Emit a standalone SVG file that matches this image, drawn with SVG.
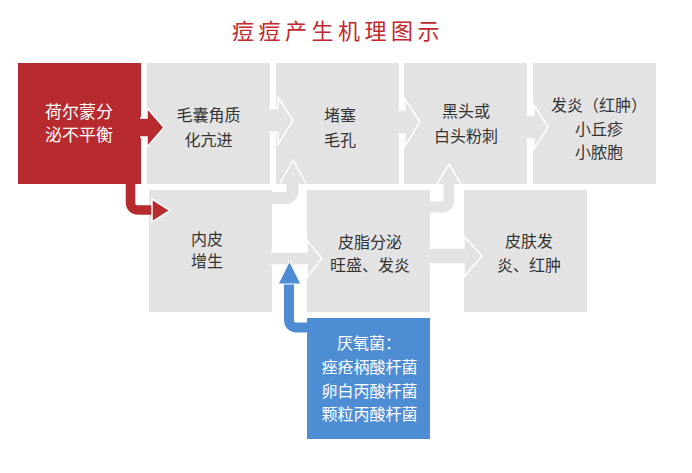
<svg xmlns="http://www.w3.org/2000/svg" width="692" height="473" viewBox="0 0 692 473">
<style>
.box{fill:#E3E3E3}
.t{font-family:"Noto Sans CJK SC","Noto Sans",sans-serif;font-size:16px;fill:#333;text-anchor:middle}
.w{fill:#fff}
.ga{fill:#E3E3E3;stroke:#fff;stroke-width:1.5}
.gs{fill:none;stroke:#E3E3E3;stroke-width:12}
.ra{fill:#B72B2F;stroke:#fff;stroke-width:1.5}
.ba{fill:#4E8DD3;stroke:#fff;stroke-width:1.2}
</style>
<rect width="692" height="473" fill="#fff"/>
<text x="232" y="39" font-family="Noto Sans CJK SC,sans-serif" font-size="22" letter-spacing="4.5" fill="#C0282D">痘痘产生机理图示</text>

<g id="n1"><rect x="18" y="63" width="123" height="121" fill="#B72B2F"/>
<text class="t w" x="79" y="118" style="font-size:17px;fill:#fff">荷尔蒙分</text>
<text class="t w" x="79" y="141" style="font-size:17px;fill:#fff">泌不平衡</text></g>
<g id="n2"><rect class="box" x="147" y="63" width="123" height="121"/>
<text class="t" x="208.5" y="120.5">毛囊角质</text><text class="t" x="208.5" y="145.5">化亢进</text></g>
<g id="n3"><rect class="box" x="276" y="63" width="123" height="121"/>
<text class="t" x="340" y="120.5">堵塞</text><text class="t" x="340" y="145.5">毛孔</text></g>
<g id="n4"><rect class="box" x="404" y="63" width="123" height="121"/>
<text class="t" x="466" y="116.5">黑头或</text><text class="t" x="466" y="141.5">白头粉刺</text></g>
<g id="n5"><rect class="box" x="533" y="63" width="123" height="121"/>
<text class="t" x="599" y="110.5">发炎（红肿）</text><text class="t" x="599" y="134.5">小丘疹</text><text class="t" x="599" y="157.5">小脓胞</text></g>
<g id="n6"><rect class="box" x="149" y="190" width="123" height="122"/>
<text class="t" x="207" y="244.5">内皮</text><text class="t" x="207" y="267">增生</text></g>
<g id="n7"><rect class="box" x="307" y="190" width="123" height="122"/>
<text class="t" x="370" y="247.5">皮脂分泌</text><text class="t" x="370" y="270.5">旺盛、发炎</text></g>
<g id="n8"><rect class="box" x="464" y="190" width="123" height="122"/>
<text class="t" x="529" y="246.5">皮肤发</text><text class="t" x="529" y="270.5">炎、红肿</text></g>
<g id="n9"><rect x="307" y="318" width="123" height="121" fill="#4E8DD3"/>
<text class="t" x="369" y="349" style="fill:#fff">厌氧菌：</text>
<text class="t" x="369.5" y="373" style="fill:#fff">痤疮柄酸杆菌</text>
<text class="t" x="369.5" y="396.5" style="fill:#fff">卵白丙酸杆菌</text>
<text class="t" x="369.5" y="420" style="fill:#fff">颗粒丙酸杆菌</text></g>

<g id="connectors">
<path class="ga" d="M269,108.5 H278 V97 L293,120.5 L278,144.5 V132.5 H269"/>
<path class="ga" d="M398,110 H405 V99 L420,122 L405,146 V134 H398"/>
<path class="ga" d="M526,115 H534 V105 L548,127 L534,149 V139 H526"/>
<path class="gs" d="M271,198 H285 Q292.5,198 292.5,190.5 V182"/>
<path class="ga" d="M280,183.5 L293,160 L306,183.5"/>
<path class="gs" style="stroke-width:11" d="M429,207 H441 Q449,207 449,199 V182"/>
<path class="ga" d="M437,184 L449,164 L461,184"/>
<path class="ga" d="M271,252 H307 V240 L322,258.5 L307,277 V265 H271"/>
<path class="ga" d="M429,248 H464 V236 L482,256 L464,277 V264 H429"/>
<path class="ra" d="M140,118 H147 V108 L164,127.5 L147,147 V137 H140"/>
<path d="M130.5,183 V202 Q130.5,210 138.5,210 H153" fill="none" stroke="#B72B2F" stroke-width="9.5"/>
<path class="ra" d="M152,199 L170,210.5 L152,222 Z"/>
<path d="M308,327.5 H297 Q289,327.5 289,319.5 V282" fill="none" stroke="#4E8DD3" stroke-width="10"/>
<path class="ba" d="M278,284 L289.5,261 L301,284 Z"/>
</g>
</svg>
